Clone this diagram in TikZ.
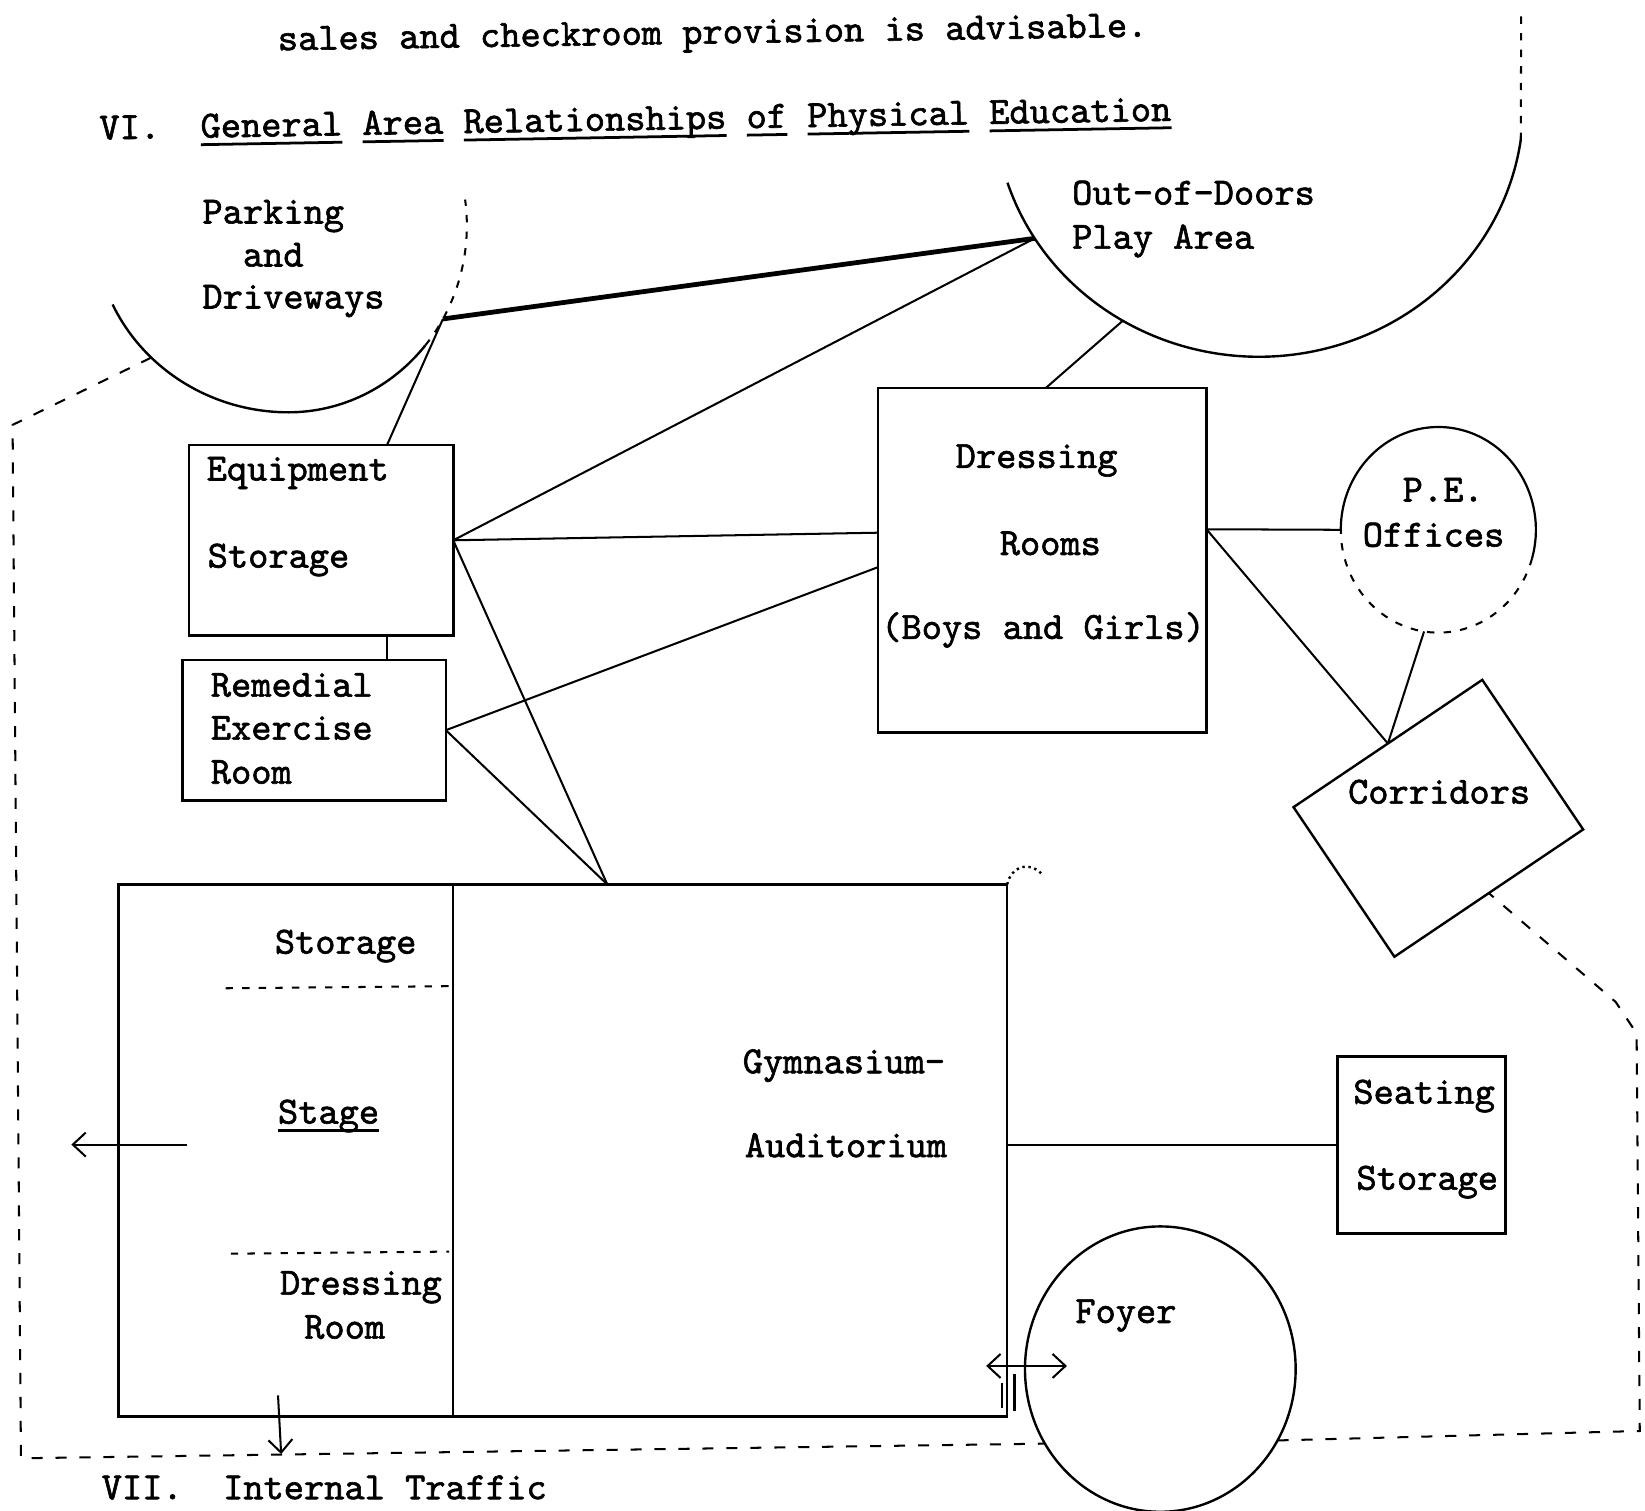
\documentclass[tikz,border=0pt]{standalone}
\usepackage{fontspec}
\newfontfamily\typewriter[FakeBold=1.6]{lmmono10-regular.otf}
\usetikzlibrary{calc,fit,arrows.meta,shapes.geometric}
\def\unitpx{0.02cm}
% typed underline, lower and heavier than \underline
\newcommand{\ruled}[1]{\setbox0\hbox{#1}\rlap{\rule[-4.5pt]{\wd0}{1.5pt}}\box0\relax}

\begin{document}
\begin{tikzpicture}[x=0.02cm,y=-0.02cm,
  every node/.append style={font=\typewriter\fontsize{20.9}{24}\selectfont},
  txt/.style={anchor=base west, inner sep=0pt, outer sep=0pt},
  room/.style={draw, line width=1.4pt, inner sep=0pt, outer sep=0pt},
  wall/.style={line width=1.3pt},
  link/.style={line width=1.1pt},
  heavy/.style={line width=2.6pt},
  part/.style={line width=1.1pt, dash pattern=on 4pt off 5pt},
  boundary/.style={line width=1.1pt, dash pattern=on 6pt off 7pt},
  oval/.style={ellipse, inner sep=0pt, outer sep=0pt},
  barb/.style={line width=1.1pt, -{Straight Barb[length=7pt,width=13pt]}},
  dbarb/.style={line width=1.1pt, {Straight Barb[length=7pt,width=13pt]}-{Straight Barb[length=7pt,width=13pt]}},
]
\fill[white] (0,0) rectangle (1568,1440);
\useasboundingbox (0,0) rectangle (1568,1440);

% ---------- headings ----------
\node[txt, rotate=0.9] (intro) at (265,48) {sales and checkroom provision is advisable.};
\node[txt, rotate=1.0] (head6) at (95,133) {VI.~~\ruled{General} \ruled{Area} \ruled{Relationships} \ruled{of} \ruled{Physical} \ruled{Education}};
\node[txt] (head7) at (97,1429) {VII.~~Internal Traffic};

% ---------- parking and driveways ----------
\coordinate (pkc) at (275,215);
\draw[wall] ($(pkc)+(155:185 and 178)$) arc[start angle=155, end angle=90, x radius=185, y radius=178]
  arc[start angle=90, end angle=40, x radius=170, y radius=178];
\draw[part] ($(pkc)+(40:170 and 178)$) arc[start angle=40, end angle=-8, x radius=170, y radius=178];
\node[txt] (pk1) at (193,213) {Parking};
\node[txt] (pk2) at (193,254) {~~and};
\node[txt] (pk3) at (193,294) {Driveways};

% ---------- out-of-doors play area ----------
\coordinate (odc) at (1200,100);
\draw[wall] ($(odc)+(162:252 and 240)$) arc[start angle=162, end angle=8, x radius=252, y radius=240] coordinate (odr);
\coordinate (odtop) at (1450,10);
\draw[part] (odr) -- (odtop);
\node[txt] (od1) at (1022,195) {Out-of-Doors};
\node[txt] (od2) at (1022,237) {Play Area};

% ---------- rooms ----------
\node[room, fit={(180,424) (432,606)}] (eq) {};
\node[txt] (eq1) at (197,458) {Equipment};
\node[txt] (eq2) at (198,541) {Storage};

\node[room, fit={(174,629) (425,763)}] (rem) {};
\node[txt] (rem1) at (201,664) {Remedial};
\node[txt] (rem2) at (201,705) {Exercise};
\node[txt] (rem3) at (201,747) {Room};

\node[room, fit={(837,370) (1150,698)}] (dr) {};
\node[txt] (dr1) at (911,446) {Dressing};
\node[txt] (dr2) at (953,529) {Rooms};
\node[txt] (dr3) at (840,609) {(Boys and Girls)};

\node[oval, minimum width=186*\unitpx, minimum height=196*\unitpx] (pe) at (1371,505) {};
\draw[line width=1.2pt] ($(pe.center)+(180:93 and 98)$) arc[start angle=180, end angle=376, x radius=93, y radius=98];
\draw[part] ($(pe.center)+(16:93 and 98)$) arc[start angle=16, end angle=180, x radius=93, y radius=98];
\node[txt] (pe1) at (1337,478) {P.E.};
\node[txt] (pe2) at (1299,521) {Offices};

\node[draw, line width=1.3pt, rotate=34, minimum width=217*\unitpx, minimum height=172*\unitpx, inner sep=0pt, outer sep=0pt] (cor) at (1371,780) {};
\node[txt] (cor1) at (1285,766) {Corridors};

\node[room, fit={(113,843) (960,1350)}] (gym) {};
\coordinate (gdt) at ($(gym.north west)+(319,0)$);
\coordinate (gdb) at ($(gym.south west)+(319,0)$);
\draw[wall] (gdt) -- (gdb);
\draw[part] (215,942) -- (428,940);
\draw[part] (220,1195) -- (428,1193);
\draw[dotted, line width=1.3pt] (gym.north east) .. controls (964,826) and (980,820) .. (993,833);
\node[txt] (gs1) at (262,909) {Storage};
\node[txt] (gs2) at (265,1071) {\ruled{Stage}};
\node[txt] (gs3) at (267,1234) {Dressing};
\node[txt] (gs4) at (290,1276) {Room};
\node[txt] (ga1) at (708,1023) {Gymnasium-};
\node[txt] (ga2) at (710,1103) {Auditorium};

\node[room, fit={(1275,1007) (1435,1176)}] (seat) {};
\node[txt] (seat1) at (1290,1052) {Seating};
\node[txt] (seat2) at (1293,1134) {Storage};

\node[oval, draw, line width=1.3pt, minimum width=258*\unitpx, minimum height=272*\unitpx] (fy) at (1106,1305) {};
\node[txt] (fy1) at (1025,1261) {Foyer};

% ---------- relationships ----------
\coordinate (pk-a) at ($(pkc)+(30:170 and 178)$);
\coordinate (pk-b) at ($(pkc)+(135:185 and 178)$);
\coordinate (od-a) at ($(odc)+(148:252 and 240)$);
\coordinate (od-b) at ($(odc)+(121:252 and 240)$);
\coordinate (gym-in) at ($(gym.north west)!0.55!(gym.north east)$);
\coordinate (dr-e) at ($(dr.north east)!0.41!(dr.south east)$);

\draw[heavy] (pk-a) -- (od-a);
\draw[link] ($(eq.north west)!0.75!(eq.north east)$) -- (pk-a);
\draw[link] (eq.east) -- (od-a);
\draw[link] (od-b) -- ($(dr.north west)!0.51!(dr.north east)$);
\draw[link] (eq.east) -- ($(dr.north west)!0.42!(dr.south west)$);
\draw[link] (eq.east) -- (gym-in);
\draw[link] (rem.east) -- (gym-in);
\draw[link] (rem.east) -- ($(dr.north west)!0.52!(dr.south west)$);
\draw[link] ($(eq.south west)!0.75!(eq.south east)$) coordinate (eq-s) -- (eq-s |- rem.north);
\draw[link] (dr-e) -- (pe.west);
\draw[link] (dr-e) -- (cor.north);
\draw[link] (pe.262) -- (cor.north);
\draw[link] (seat.west -| gym.east) -- (seat.west);

% ---------- exits and doors ----------
\coordinate (stage-w) at (178,1091);
\coordinate (exit-w) at (68,1091);
\draw[barb] (stage-w) -- (exit-w);
\coordinate (room-s) at (265,1330);
\coordinate (exit-s) at (268,1386);
\draw[barb] (room-s) -- (exit-s);
\coordinate (door-g) at (940,1302);
\coordinate (door-f) at (1017,1302);
\draw[dbarb] (door-g) -- (door-f);
\draw[link] (955,1318) -- (955,1342);
\draw[link] (967,1310) -- (967,1345);

% ---------- building outline ----------
\coordinate (bnw) at (12,405);
\coordinate (bsw) at (20,1390);
\coordinate (bse) at (1563,1364);
\coordinate (bne) at (1560,985);
\coordinate (bnk) at (1540,955);
\draw[boundary] (pk-b) -- (bnw) -- (bsw) -- ($(fy.center)+(148.5:129 and 136)$);
\draw[boundary] ($(fy.center)+(30:129 and 136)$) -- (bse) -- (bne) -- (bnk) -- (cor.south);
\end{tikzpicture}
\end{document}
